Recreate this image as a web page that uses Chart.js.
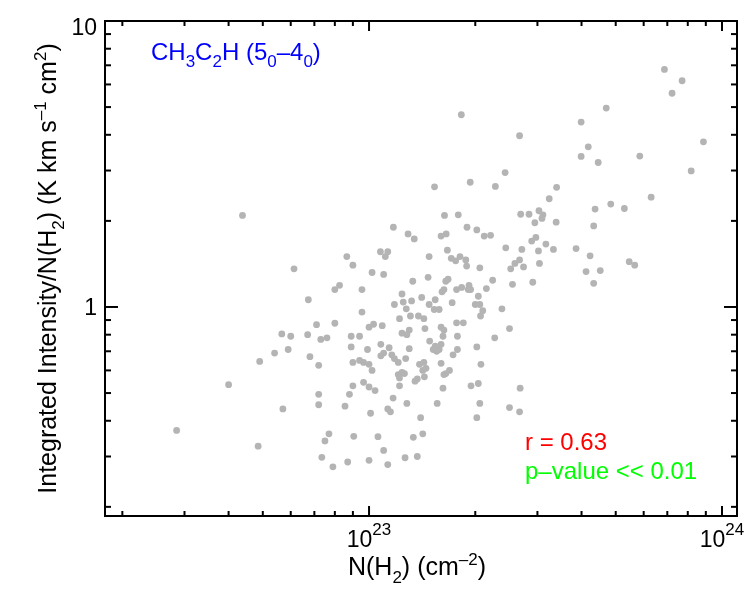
<!DOCTYPE html>
<html>
<head>
<meta charset="utf-8">
<script src="https://cdn.jsdelivr.net/npm/chart.js@4.4.1/dist/chart.umd.min.js"></script>
<style>
  html, body { margin: 0; padding: 0; background: #fff; }
  #wrap { width: 750px; height: 600px; }
</style>
</head>
<body>
<div id="wrap"><canvas id="chart" width="750" height="600"></canvas></div>
<script>
// N(H2) column density, cm^-2
const nH2 = [
  0.438e23, 0.613e23, 0.865e23, 0.90e23, 1.826e23, 2.67e23, 1.533e23, 1.935e23, 2.28e23, 2.43e23,
  1.636e23, 1.79e23, 2.69e23, 2.84e23, 1.172e23, 1.29e23, 1.343e23, 1.60e23, 1.654e23, 1.895e23,
  2.02e23, 2.12e23, 2.21e23, 2.44e23, 2.71e23, 2.89e23, 1.077e23, 1.13e23, 1.112e23, 1.48e23,
  1.667e23, 1.71e23, 1.76e23, 1.81e23, 1.88e23, 1.89e23, 2.06e23, 2.52e23, 2.59e23, 2.67e23,
  2.74e23, 6.87e23, 7.71e23, 7.22e23, 4.70e23, 3.99e23, 8.86e23, 4.18e23, 3.99e23, 4.46e23,
  5.85e23, 8.18e23, 3.40e23, 3.24e23, 6.30e23, 4.37e23, 4.84e23, 5.29e23, 3.03e23, 3.11e23,
  3.09e23, 2.95e23, 3.39e23, 4.33e23, 2.97e23, 3.17e23, 3.02e23, 3.33e23, 3.86e23, 4.23e23,
  3.04e23, 5.46e23, 5.66e23, 4.12e23, 4.52e23, 4.33e23, 2.91e23, 1.02e23, 1.10e23, 0.955e23,
  1.33e23, 1.47e23, 1.675e23, 1.65e23, 1.63e23, 1.61e23, 1.77e23, 1.83e23, 1.92e23, 1.94e23,
  1.91e23, 2.24e23, 2.55e23, 2.15e23, 2.04e23, 1.24e23, 1.41e23, 1.54e23, 1.18e23, 1.25e23,
  1.32e23, 1.275e23, 1.48e23, 1.53e23, 1.58e23, 1.72e23, 2.00e23, 2.06e23, 2.10e23, 2.07e23,
  2.38e23, 0.955e23, 1.22e23, 1.31e23, 1.38e23, 1.43e23, 1.00e23, 1.03e23, 1.09e23, 0.89e23,
  0.94e23, 1.24e23, 1.30e23, 1.28e23, 1.44e23, 1.60e23, 1.63e23, 1.62e23, 1.77e23, 1.85e23,
  1.78e23, 2.50e23, 2.27e23, 0.89e23, 0.99e23, 1.08e23, 1.10e23, 1.08e23, 1.14e23, 1.16e23,
  1.18e23, 1.21e23, 1.27e23, 1.30e23, 1.485e23, 1.52e23, 1.555e23, 1.60e23, 1.58e23, 1.54e23,
  1.78e23, 1.73e23, 2.02e23, 0.90e23, 0.94e23, 0.965e23, 1.00e23, 1.02e23, 1.21e23, 1.24e23,
  1.26e23, 1.22e23, 1.39e23, 1.43e23, 1.45e23, 1.435e23, 1.42e23, 1.35e23, 1.37e23, 1.60e23,
  1.63e23, 1.65e23, 1.69e23, 2.075e23, 0.90e23, 0.88e23, 0.965e23, 1.00e23, 1.04e23, 1.22e23,
  1.62e23, 1.945e23, 2.04e23, 1.17e23, 1.28e23, 1.56e23, 2.06e23, 2.50e23, 2.67e23, 2.68e23,
  0.855e23, 1.01e23, 1.13e23, 1.15e23, 1.40e23, 2.02e23, 0.905e23, 1.06e23, 1.335e23, 1.42e23,
  1.10e23, 0.87e23, 1.00e23, 1.13e23, 1.265e23, 1.37e23, 0.825e23, 0.80e23, 0.673e23, 0.71e23,
  0.80e23, 0.566e23, 0.60e23, 0.67e23, 0.73e23, 0.76e23, 0.54e23, 0.59e23, 0.49e23, 0.68e23,
  0.72e23, 0.40e23, 0.72e23, 0.72e23, 0.57e23, 0.285e23, 0.485e23, 0.77e23, 0.75e23, 0.735e23,
  0.79e23
];

// integrated intensity / N(H2)
const ratio = [
  2.09, 1.36, 1.50, 1.40, 4.70, 3.97, 2.63, 2.73, 2.64, 2.95,
  2.09, 2.10, 2.11, 2.11, 1.90, 1.80, 1.73, 1.77, 1.80, 1.90,
  1.86, 1.77, 1.78, 1.61, 1.59, 1.70, 1.56, 1.56, 1.50, 1.50,
  1.58, 1.48, 1.45, 1.50, 1.46, 1.39, 1.37, 1.36, 1.42, 1.46,
  1.38, 6.77, 6.18, 5.59, 4.96, 4.43, 3.78, 3.63, 3.36, 3.20,
  3.37, 2.99, 2.62, 2.39, 2.42, 2.20, 2.29, 2.21, 2.17, 2.10,
  2.04, 1.97, 1.98, 1.92, 1.75, 1.66, 1.57, 1.59, 1.60, 1.51,
  1.42, 1.44, 1.40, 1.33, 1.34, 1.21, 1.22, 1.32, 1.30, 1.15,
  1.23, 1.27, 1.25, 1.23, 1.15, 1.13, 1.15, 1.17, 1.19, 1.15,
  1.15, 1.24, 1.20, 1.16, 1.09, 1.11, 1.08, 1.06, 1.02, 1.04,
  1.05, 0.985, 1.02, 0.98, 0.98, 1.035, 1.02, 1.02, 0.97, 0.93,
  0.985, 0.96, 0.91, 0.93, 0.93, 0.91, 0.85, 0.87, 0.86, 0.79,
  0.79, 0.81, 0.83, 0.80, 0.84, 0.85, 0.83, 0.79, 0.88, 0.88,
  0.79, 0.84, 0.78, 0.725, 0.71, 0.74, 0.69, 0.675, 0.72, 0.68,
  0.66, 0.64, 0.66, 0.715, 0.76, 0.71, 0.70, 0.74, 0.71, 0.73,
  0.71, 0.68, 0.725, 0.64, 0.65, 0.64, 0.63, 0.60, 0.58, 0.59,
  0.585, 0.565, 0.63, 0.64, 0.61, 0.57, 0.60, 0.55, 0.56, 0.635,
  0.58, 0.585, 0.60, 0.63, 0.53, 0.495, 0.545, 0.525, 0.51, 0.53,
  0.52, 0.53, 0.54, 0.48, 0.46, 0.46, 0.46, 0.445, 0.43, 0.52,
  0.45, 0.425, 0.44, 0.43, 0.41, 0.41, 0.353, 0.352, 0.35, 0.36,
  0.315, 0.287, 0.291, 0.281, 0.297, 0.30, 1.19, 1.15, 1.06, 0.867,
  0.877, 0.805, 0.79, 0.80, 0.77, 0.78, 0.69, 0.71, 0.645, 0.67,
  0.625, 0.535, 0.495, 0.455, 0.44, 0.37, 0.326, 0.36, 0.34, 0.298,
  0.276
];

const xRange = [1.786e22, 1.103e24];
const yRange = [0.1858, 10];
const xMajor = [1e23, 1e24];
const xMajorExp = ['23', '24'];
const yMajor = [1, 10];
const yMajorLabels = ['1', '10'];
const mantissas = [2, 3, 4, 5, 6, 7, 8, 9];

const FONT = '"Liberation Sans", Arial, Helvetica, sans-serif';
const font = size => size + 'px ' + FONT;

// draw text with sub (-1) / super (1) scripted pieces
function drawRich(ctx, parts, x, y, o) {
    let w = 0;
    parts.forEach(p => {
        ctx.font = font(p[1] ? o.small : o.size);
        w += ctx.measureText(p[0]).width;
    });
    let cx = o.align === 'center' ? x - w / 2 : (o.align === 'right' ? x - w : x);
    ctx.textAlign = 'left';
    ctx.textBaseline = 'alphabetic';
    parts.forEach(p => {
        ctx.font = font(p[1] ? o.small : o.size);
        let dy = 0;
        if (p[1] === 1) dy = -o.size * o.up;
        if (p[1] === -1) dy = o.size * o.down;
        ctx.fillText(p[0], cx, y + dy);
        cx += ctx.measureText(p[0]).width;
    });
}

function minorValues(lo, hi) {
    const out = [];
    for (let e = Math.floor(Math.log10(lo)); e <= Math.ceil(Math.log10(hi)); e++) {
        mantissas.forEach(m => {
            const v = m * Math.pow(10, e);
            if (v >= lo && v <= hi) out.push(v);
        });
    }
    return out;
}

const framePlugin = {
    id: 'idlFrame',
    afterDatasetsDraw(chart) {
        const { ctx, chartArea: a, scales } = chart;
        const xs = scales.x, ys = scales.y;
        ctx.save();
        ctx.strokeStyle = '#000';
        ctx.fillStyle = '#000';
        ctx.lineWidth = 2;
        ctx.strokeRect(a.left, a.top, a.right - a.left, a.bottom - a.top);

        const tick = (x1, y1, x2, y2) => {
            ctx.beginPath();
            ctx.moveTo(x1, y1);
            ctx.lineTo(x2, y2);
            ctx.stroke();
        };
        // x ticks, bottom and top
        xMajor.forEach(v => {
            const px = xs.getPixelForValue(v);
            tick(px, a.bottom, px, a.bottom - 10);
            tick(px, a.top, px, a.top + 10);
        });
        minorValues(xRange[0], xRange[1]).forEach(v => {
            const px = xs.getPixelForValue(v);
            tick(px, a.bottom, px, a.bottom - 5);
            tick(px, a.top, px, a.top + 5);
        });
        // y ticks, left and right
        yMajor.forEach(v => {
            const py = ys.getPixelForValue(v);
            tick(a.left, py, a.left + 13, py);
            tick(a.right, py, a.right - 13, py);
        });
        minorValues(yRange[0], yRange[1]).forEach(v => {
            const py = ys.getPixelForValue(v);
            tick(a.left, py, a.left + 6, py);
            tick(a.right, py, a.right - 6, py);
        });

        // tick labels
        xMajor.forEach((v, i) => {
            const px = xs.getPixelForValue(v);
            drawRich(ctx, [['10', 0], [xMajorExp[i], 1]], px, 547,
                { size: 23, small: 17, up: 0.52, align: 'center' });
        });
        yMajor.forEach((v, i) => {
            const py = ys.getPixelForValue(v);
            ctx.font = font(23);
            ctx.textAlign = 'right';
            ctx.textBaseline = 'alphabetic';
            ctx.fillText(yMajorLabels[i], 97, Math.max(py + 8, 35));
        });

        // axis titles
        const tOpt = { size: 25, small: 17, up: 0.42, down: 0.3, align: 'center' };
        drawRich(ctx, [['N(H', 0], ['2', -1], [') (cm', 0], ['\u20132', 1], [')', 0]],
            (a.left + a.right) / 2 - 4, 575, tOpt);
        ctx.save();
        ctx.translate(56, (a.top + a.bottom) / 2);
        ctx.rotate(-Math.PI / 2);
        drawRich(ctx, [['Integrated Intensity/N(H', 0], ['2', -1], [') (K km s', 0], ['\u20131', 1],
            [' cm', 0], ['2', 1], [')', 0]], 0, 0, tOpt);
        ctx.restore();

        // annotations
        ctx.fillStyle = '#0000ff';
        drawRich(ctx, [['CH', 0], ['3', -1], ['C', 0], ['2', -1], ['H (5', 0], ['0', -1],
            ['\u20134', 0], ['0', -1], [')', 0]], 151, 60,
            { size: 24, small: 17, down: 0.28, align: 'left' });
        ctx.fillStyle = '#ff0000';
        ctx.font = font(24);
        ctx.textAlign = 'left';
        ctx.fillText('r = 0.63', 525, 450);
        ctx.fillStyle = '#00ff00';
        ctx.fillText('p\u2013value << 0.01', 525, 479);
        ctx.restore();
    }
};

const points = nH2.map((x, i) => ({ x: x, y: ratio[i] }));

new Chart(document.getElementById('chart').getContext('2d'), {
    type: 'scatter',
    data: {
        datasets: [{
            data: points,
            backgroundColor: '#b4b4b4',
            borderWidth: 0,
            pointRadius: 3.4,
            pointHoverRadius: 3.4,
        }],
    },
    options: {
        responsive: false,
        animation: false,
        layout: { padding: { left: 105, right: 13, top: 21, bottom: 84 } },
        scales: {
            x: { type: 'logarithmic', min: xRange[0], max: xRange[1], display: false },
            y: { type: 'logarithmic', min: yRange[0], max: yRange[1], display: false },
        },
        plugins: {
            legend: { display: false },
            tooltip: { enabled: false },
        },
    },
    plugins: [framePlugin],
});
</script>
</body>
</html>
